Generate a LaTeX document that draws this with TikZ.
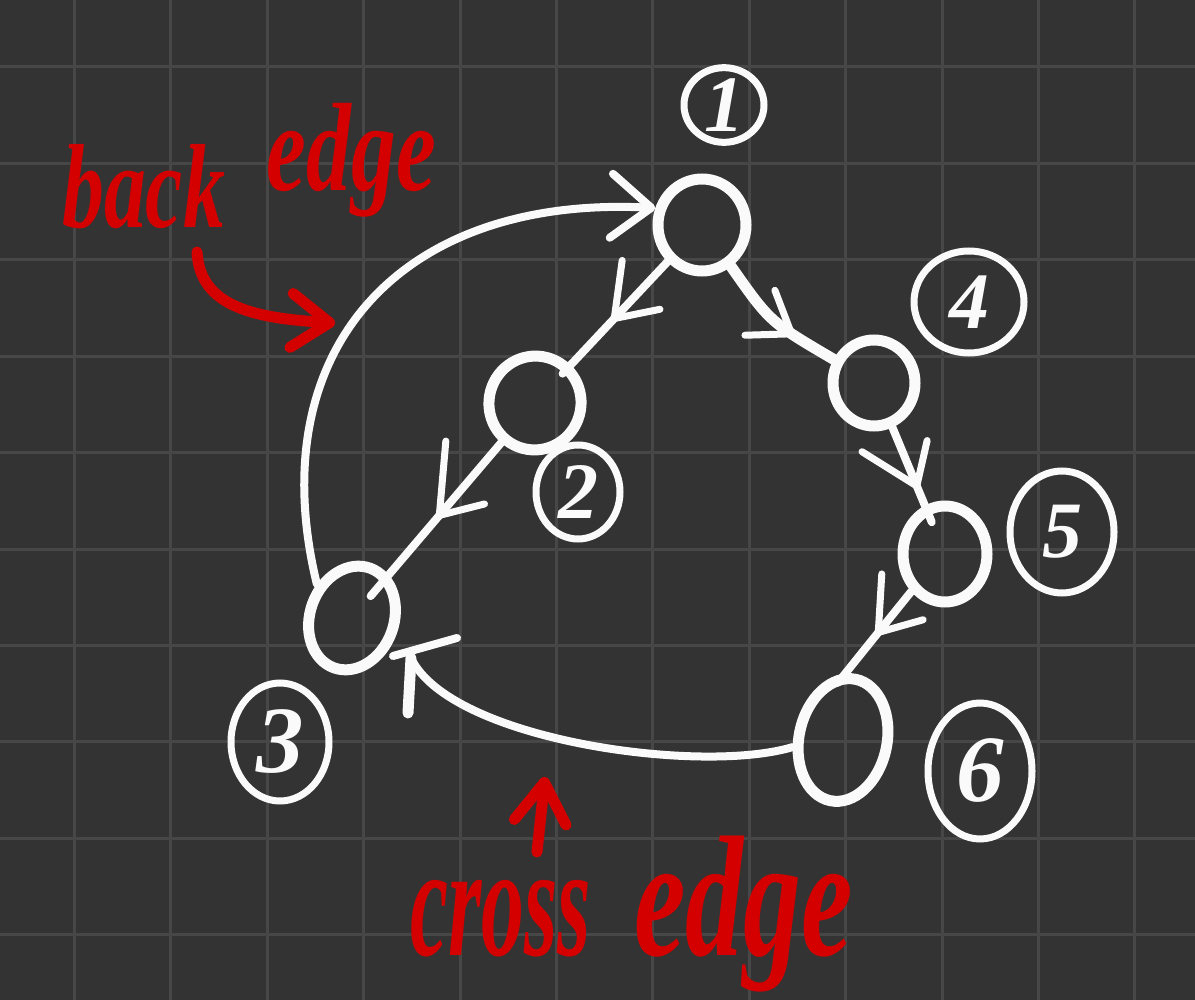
\documentclass[tikz,border=0pt]{standalone}
\usepackage{fontspec}
\newfontfamily\handfont{Liberation Serif}
\usetikzlibrary{shapes.geometric,decorations.markings,arrows.meta}
\definecolor{bgc}{HTML}{333333}
\definecolor{gridc}{HTML}{474747}
\definecolor{chalk}{HTML}{FAFAFA}
\definecolor{marker}{HTML}{D40000}
\begin{document}
\begin{tikzpicture}[x=1pt,y=-1pt,
 vert/.style={ellipse,draw=chalk,line width=11pt,inner sep=0pt},
 lab/.style={ellipse,draw=chalk,line width=7pt,inner sep=0pt,text=chalk,font=\handfont\fontsize{80}{80}\selectfont\bfseries\itshape},
 link/.style={draw=chalk,line width=8pt,line cap=round,line join=round},
 midarrow/.style={postaction={decorate,decoration={markings,mark=at position #1 with {\draw[chalk,line width=7pt,line cap=round,line join=round] (-38pt,27pt) -- (0pt,0pt) -- (-38pt,-27pt);}}}},
 redtxt/.style={text=marker,font=\handfont\fontsize{90}{90}\selectfont\bfseries\itshape,inner sep=0pt},
 redline/.style={draw=marker,line width=11pt,line cap=round,line join=round},
]
\useasboundingbox (0,0) rectangle (1195,1000);
\fill[bgc] (0,0) rectangle (1195,1000);
\foreach \i in {0,...,11} \draw[gridc,line width=3pt] ({74.5+96.4*\i},0) -- ({74.5+96.4*\i},1000);
\foreach \j in {0,...,9} \draw[gridc,line width=3pt] (0,{67+96.4*\j}) -- (1195,{67+96.4*\j});

% vertices
\node[vert,minimum width=88pt,minimum height=92pt] (n1) at (702,225) {};
\node[vert,minimum width=92pt,minimum height=94pt,rotate=-15] (n2) at (535,403) {};
\node[vert,minimum width=84pt,minimum height=106pt,rotate=-20] (n3) at (352,618) {};
\node[vert,minimum width=82pt,minimum height=86pt] (n4) at (874,383) {};
\node[vert,minimum width=84pt,minimum height=96pt] (n5) at (945,554) {};
\node[vert,minimum width=88pt,minimum height=124pt,rotate=-12] (n6) at (843,740) {};

% vertex labels
\node[lab,minimum width=80pt,minimum height=74pt] (l1) at (724,105) {1};
\node[lab,minimum width=84pt,minimum height=94pt] (l2) at (578,492) {2};
\node[lab,minimum width=98pt,minimum height=118pt,font=\handfont\fontsize{95}{95}\selectfont\bfseries\itshape] (l3) at (280,742) {3};
\node[lab,minimum width=110pt,minimum height=102pt] (l4) at (969,302) {4};
\node[lab,minimum width=104pt,minimum height=122pt] (l5) at (1062,532) {5};
\node[lab,minimum width=104pt,minimum height=136pt,font=\handfont\fontsize{95}{95}\selectfont\bfseries\itshape] (l6) at (980,771) {6};

% tree edges
\draw[link,midarrow=0.55,shorten >=-12pt] (n1) -- (n2);
\draw[link,midarrow=0.55,shorten >=-28pt] (n2) -- (n3);
\draw[link,line width=11pt,midarrow=0.65] (n1) .. controls (770,322) .. (n4);
\draw[link,midarrow=0.75,shorten >=-18pt] (n4) -- (n5);
\draw[link,midarrow=0.5,shorten >=-12pt] (n5.228) -- (n6.100);

% back edge
\draw[link,-{Straight Barb[length=40pt,width=64pt,round]}] (n3.156) .. controls (260,350) and (400,195) .. (n1.160);

% cross edge
\coordinate (ce) at (411,658);
\draw[link] (n6.200) .. controls (700,775) and (450,740) .. (ce);
\draw[link,line width=11pt] (ce) -- ++(-3,55);
\draw[link] (ce) ++(-18,-2) -- ++(64,-18);

% annotations
\node[redtxt,anchor=base west] (bk) at (62,228) {\scalebox{0.93}[1.33]{back\hspace{45pt}\raisebox{28pt}{\scalebox{1.07}[1.05]{edge}}}};
\coordinate (bs) at (197,252);
\coordinate (bt) at (335,323);
\draw[redline,-{Straight Barb[length=38pt,width=54pt,round]}] (bs) .. controls (200,305) and (250,318) .. (bt);

\node[redtxt,anchor=base west] (cr) at (410,955) {\scalebox{0.78}[1.45]{\fontsize{110}{110}\selectfont cross\hspace{55pt}\scalebox{1.35}[1.08]{edge}}};
\coordinate (cs) at (537,852);
\coordinate (ct) at (545,777);
\draw[redline,-{Straight Barb[length=40pt,width=52pt,round]}] (cs) -- (ct);
\end{tikzpicture}
\end{document}
